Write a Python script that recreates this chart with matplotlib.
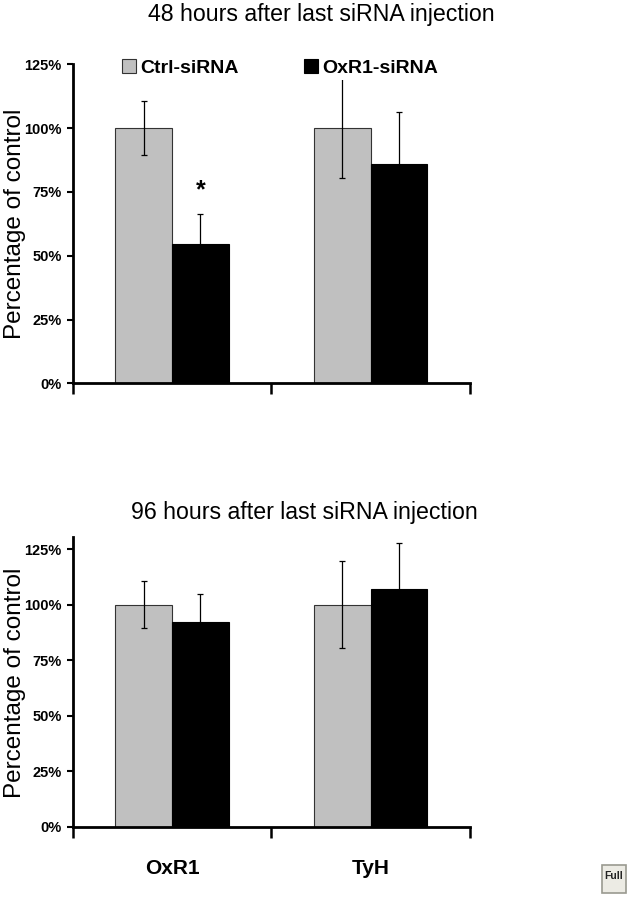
import matplotlib
matplotlib.use("Agg")
import matplotlib.pyplot as plt
from matplotlib.patches import Rectangle
import numpy as np

plt.rcParams['font.family'] = ['Liberation Sans', 'DejaVu Sans']

categories = ["OxR1", "TyH"]
series_names = ["Ctrl-siRNA", "OxR1-siRNA"]
titles = ["48 hours after last siRNA injection", "96 hours after last siRNA injection"]

ctrl_48 = [100.0, 100.0]
ctrl_48_err = [10.5, 19.5]
oxr1_48 = [54.5, 86.0]
oxr1_48_err = [12.0, 20.5]

ctrl_96 = [100.0, 100.0]
ctrl_96_err = [10.5, 19.5]
oxr1_96 = [92.3, 107.0]
oxr1_96_err = [12.3, 20.6]

yticks = [0, 25, 50, 75, 100, 125]
ytick_labels = ["0%", "25%", "50%", "75%", "100%", "125%"]

W, H = 630, 898
fig = plt.figure(figsize=(W / 100, H / 100), dpi=100)

def fx(px):
    return px / W

def fy(py):
    return 1 - py / H

left_px, right_px = 72.7, 470.0
ax_w = right_px - left_px
ax1 = fig.add_axes([fx(left_px), fy(383.3), fx(ax_w), (383.3 - 64.3) / H])
ax2 = fig.add_axes([fx(left_px), fy(826.7), fx(ax_w), (826.7 - 536.8) / H])

bw = 0.286
x = np.arange(len(categories))

def draw(ax, c, ce, o, oe, ymax):
    ax.bar(x - bw / 2, c, bw, color="#C0C0C0", edgecolor="#333333", linewidth=0.8, zorder=2)
    ax.bar(x + bw / 2, o, bw, color="#000000", edgecolor="#000000", linewidth=0.8, zorder=2)
    ax.errorbar(x - bw / 2, c, yerr=ce, fmt="none", ecolor="#000000", elinewidth=0.9, capsize=2.2, capthick=0.9, zorder=3)
    ax.errorbar(x + bw / 2, o, yerr=oe, fmt="none", ecolor="#000000", elinewidth=0.9, capsize=2.2, capthick=0.9, zorder=3)
    ax.set_xlim(-0.5, 1.5)
    ax.set_ylim(0, ymax)
    ax.set_yticks(yticks)
    ax.set_yticklabels(ytick_labels, fontsize=10.5, fontweight="bold")
    ax.tick_params(axis="y", direction="out", length=4, width=1.5, pad=4)
    ax.set_xticks([-0.5, 0.5, 1.5], minor=True)
    ax.tick_params(axis="x", which="minor", direction="out", length=8, width=1.8)
    ax.set_xticks(x)
    ax.set_xticklabels([])
    ax.tick_params(axis="x", which="major", length=0)
    for s in ["top", "right"]:
        ax.spines[s].set_visible(False)
    for s in ["left", "bottom"]:
        ax.spines[s].set_linewidth(2.0)
    ax.spines["left"].set_bounds(0, ymax)
    ax.set_ylabel("Percentage of control", fontsize=17.5)

draw(ax1, ctrl_48, ctrl_48_err, oxr1_48, oxr1_48_err, 125)
draw(ax2, ctrl_96, ctrl_96_err, oxr1_96, oxr1_96_err, 130.5)
lab_x = -(left_px - 26) / ax_w
ax1.yaxis.set_label_coords(lab_x, (383.3 - 223.5) / (383.3 - 64.3))
ax2.yaxis.set_label_coords(lab_x, (826.7 - 682.5) / (826.7 - 536.8))

# significance star
ax1.text(x[0] + bw / 2, 75.5, "*", ha="center", va="center", fontsize=18, fontweight="bold")

# category labels on bottom chart
ax2.set_xticklabels(categories, fontsize=15, fontweight="bold")
ax2.tick_params(axis="x", which="major", pad=23)

# legend
ax_h = 383.3 - 64.3
leg = ax1.legend(series_names, loc="center left",
                 bbox_to_anchor=((119 - left_px) / ax_w, (383.3 - 68) / ax_h),
                 ncol=2, frameon=True, fontsize=14, handlelength=0.72, handleheight=0.75,
                 handletextpad=0.2, columnspacing=3.4, borderaxespad=0, borderpad=0.15)
leg.get_frame().set_edgecolor("white")
leg.get_frame().set_facecolor("white")
leg.get_frame().set_alpha(1)
leg.get_frame().set_linewidth(0)
for t in leg.get_texts():
    t.set_fontweight("bold")
leg.set_zorder(5)

# titles
fig.text(fx(321.7), fy(14), titles[0], ha="center", va="center", fontsize=16.7)
fig.text(fx(304.7), fy(513), titles[1], ha="center", va="center", fontsize=16.7)

# "Full" button artifact
fig.patches.append(Rectangle((fx(601.5), fy(893)), fx(24.5), 28 / H, transform=fig.transFigure,
                             facecolor="#ECEBE4", edgecolor="#9A9A90", linewidth=1.2))
fig.text(fx(613.8), fy(876), "Full", ha="center", va="center", fontsize=7.5, fontweight="bold",
         color="#222222")

fig.savefig("out.png", dpi=100)
